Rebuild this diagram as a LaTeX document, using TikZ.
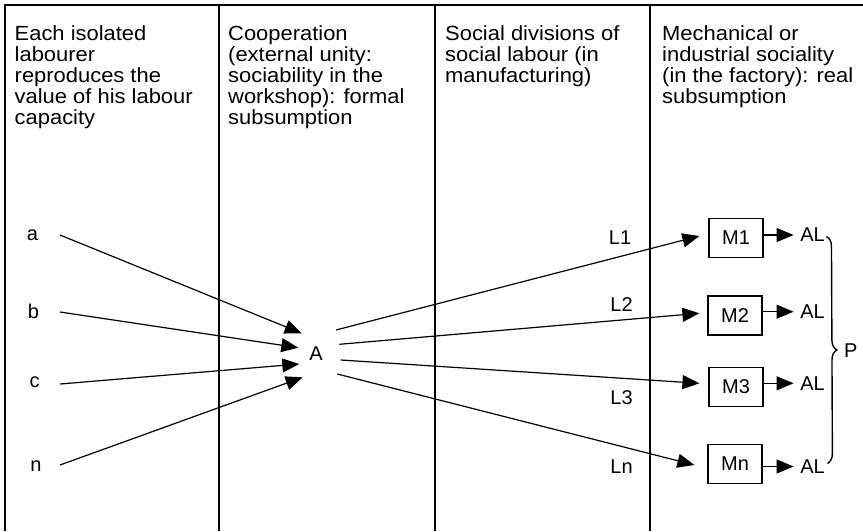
\documentclass[tikz,border=0pt]{standalone}
\usepackage{fontspec}
\setmainfont{Liberation Sans}
\newfontfamily\hdrfont{Liberation Sans}[FakeStretch=1.07]
\usetikzlibrary{arrows.meta,decorations.pathreplacing}
\begin{document}
\begin{tikzpicture}[x=1pt,y=-1pt,
  hdr/.style={anchor=north west, align=left, inner sep=0pt, font=\hdrfont\fontsize{20.5}{20.8}\selectfont},
  lbl/.style={inner sep=0pt, font=\fontsize{20}{24}\selectfont},
  mbox/.style={draw, line width=1.2pt, minimum width=54pt, minimum height=39pt, inner sep=0pt, font=\fontsize{20}{24}\selectfont},
  arr/.style={line width=1.2pt, -{Triangle[length=17pt,width=14pt]}},
  framestyle/.style={line width=2pt}]
\useasboundingbox (0,0) rectangle (863,531);
% frame
\draw[framestyle] (4.5,531) -- (4.5,5) -- (863,5);
\draw[framestyle] (219,5) -- (219,531);
\draw[framestyle] (435,5) -- (435,531);
\draw[framestyle] (650,5) -- (650,531);
% headers
\node[hdr] (h1) at (14.5,25.8) {Each isolated\\labourer\\reproduces the\\value of his labour\\capacity};
\node[hdr] (h2) at (228,25.8) {Cooperation\\(external unity:\\sociability in the\\workshop): formal\\subsumption};
\node[hdr] (h3) at (445,25.8) {Social divisions of\\social labour (in\\manufacturing)};
\node[hdr] (h4) at (662,25.8) {Mechanical or\\industrial sociality\\(in the factory): real\\subsumption};
% left labels
\node[lbl] (a) at (32.5,235.5) {a};
\node[lbl] (b) at (33.5,311) {b};
\node[lbl] (c) at (34.5,382.5) {c};
\node[lbl] (n) at (36,466.5) {n};
\node[lbl] (A) at (316,353.5) {A};
% incoming arrows
\draw[arr] ([shift={(27.5,-0.5)}]a.center) -- ([shift={(-14.3,-20.2)}]A.center);
\draw[arr] ([shift={(26.5,1)}]b.center) -- ([shift={(-17.7,-5.8)}]A.center);
\draw[arr] ([shift={(25.5,1.5)}]c.center) -- ([shift={(-16.7,10.5)}]A.center);
\draw[arr] ([shift={(24,-1.5)}]n.center) -- ([shift={(-13.3,23.8)}]A.center);
% machine boxes
\node[mbox] (M1) at (736,238) {M1};
\node[mbox] (M2) at (735,315.5) {M2};
\node[mbox] (M3) at (736,387) {M3};
\node[mbox] (Mn) at (735,464) {Mn};
% L labels
\node[lbl] (L1) at (620,238) {L1};
\node[lbl] (L2) at (621.5,305) {L2};
\node[lbl] (L3) at (621.5,398) {L3};
\node[lbl] (Ln) at (621.5,466.5) {Ln};
% outgoing arrows
\draw[arr] ([shift={(20,-23.5)}]A.center) -- ([shift={(-9,-2)}]M1.west);
\draw[arr] ([shift={(23.3,-9.2)}]A.center) -- ([shift={(-8,-2.2)}]M2.west);
\draw[arr] ([shift={(24.7,6.5)}]A.center) -- ([shift={(-9,-3.7)}]M3.west);
\draw[arr] ([shift={(21.3,20.5)}]A.center) -- ([shift={(-13,1)}]Mn.west);
% AL labels
\node[lbl] (AL1) at (812.5,235) {AL};
\node[lbl] (AL2) at (812.5,311.7) {AL};
\node[lbl] (AL3) at (812.5,383.3) {AL};
\node[lbl] (ALn) at (812.5,466.5) {AL};
\draw[arr] (M1.east |- AL1.west) -- ([xshift=-6.5]AL1.west);
\draw[arr] (M2.east |- AL2.west) -- ([xshift=-6.5]AL2.west);
\draw[arr] (M3.east |- AL3.west) -- ([xshift=-6.5]AL3.west);
\draw[arr] (Mn.east |- ALn.west) -- ([xshift=-6.5]ALn.west);
% brace
\draw[line width=1.4pt, decorate, decoration={brace, amplitude=10pt, raise=0pt}] ([shift={(1.5,1.5)}]AL1.east) -- ([shift={(2.5,-3)}]ALn.east);
\node[lbl] (P) at (850.7,350.7) {P};
\end{tikzpicture}
\end{document}
